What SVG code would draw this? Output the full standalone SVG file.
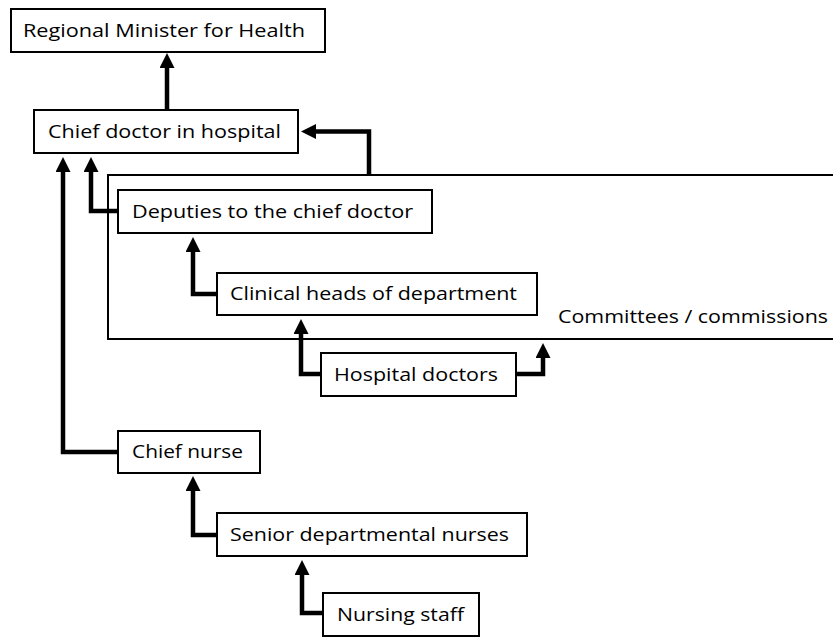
<svg xmlns="http://www.w3.org/2000/svg" width="833" height="637" viewBox="0 0 833 637">
<style>
.box{fill:#fff;stroke:#000;stroke-width:2}
.lbl{font-family:"Open Sans","Liberation Sans",sans-serif;font-size:18.5px;fill:#000}
.con{fill:none;stroke:#000;stroke-width:4.5;stroke-linejoin:miter;stroke-linecap:butt;marker-end:url(#ah)}
</style>
<defs>
<marker id="ah" markerUnits="userSpaceOnUse" markerWidth="15" markerHeight="15" refX="2" refY="7.5" orient="auto">
<path d="M0,0 L15,7.5 L0,15 z" fill="#000"/>
</marker>
</defs>
<rect width="833" height="637" fill="#fff"/>
<g id="committees">
<rect class="box" x="108" y="175" width="740" height="164"/>
<text class="lbl" x="558" y="323" textLength="270" lengthAdjust="spacingAndGlyphs">Committees / commissions</text>
</g>
<g id="minister">
<rect class="box" x="11" y="9" width="314" height="43"/>
<text class="lbl" x="23" y="37" textLength="282" lengthAdjust="spacingAndGlyphs">Regional Minister for Health</text>
</g>
<g id="chief-doctor">
<rect class="box" x="34" y="110" width="264" height="43"/>
<text class="lbl" x="48" y="138" textLength="233" lengthAdjust="spacingAndGlyphs">Chief doctor in hospital</text>
</g>
<g id="deputies">
<rect class="box" x="118" y="190" width="314" height="43"/>
<text class="lbl" x="132" y="218" textLength="281" lengthAdjust="spacingAndGlyphs">Deputies to the chief doctor</text>
</g>
<g id="clinical-heads">
<rect class="box" x="217" y="273" width="320" height="42"/>
<text class="lbl" x="230" y="300" textLength="287" lengthAdjust="spacingAndGlyphs">Clinical heads of department</text>
</g>
<g id="hospital-doctors">
<rect class="box" x="321" y="353" width="195" height="43"/>
<text class="lbl" x="334" y="381" textLength="164" lengthAdjust="spacingAndGlyphs">Hospital doctors</text>
</g>
<g id="chief-nurse">
<rect class="box" x="118" y="431" width="142" height="42"/>
<text class="lbl" x="132" y="458" textLength="111" lengthAdjust="spacingAndGlyphs">Chief nurse</text>
</g>
<g id="senior-nurses">
<rect class="box" x="217" y="513" width="310" height="43"/>
<text class="lbl" x="230" y="541" textLength="279" lengthAdjust="spacingAndGlyphs">Senior departmental nurses</text>
</g>
<g id="nursing-staff">
<rect class="box" x="323" y="593" width="156" height="43"/>
<text class="lbl" x="337" y="621" textLength="127" lengthAdjust="spacingAndGlyphs">Nursing staff</text>
</g>
<g id="connectors">
<path class="con" d="M167,110 V66"/>
<path class="con" d="M369,175 V131.5 H314"/>
<path class="con" d="M118,211 H91 V170"/>
<path class="con" d="M118,452 H63 V170"/>
<path class="con" d="M217,294 H193 V250"/>
<path class="con" d="M321,374 H301 V332"/>
<path class="con" d="M516,374 H543 V356"/>
<path class="con" d="M217,535 H193 V489"/>
<path class="con" d="M323,613 H302 V573"/>
</g>
</svg>
